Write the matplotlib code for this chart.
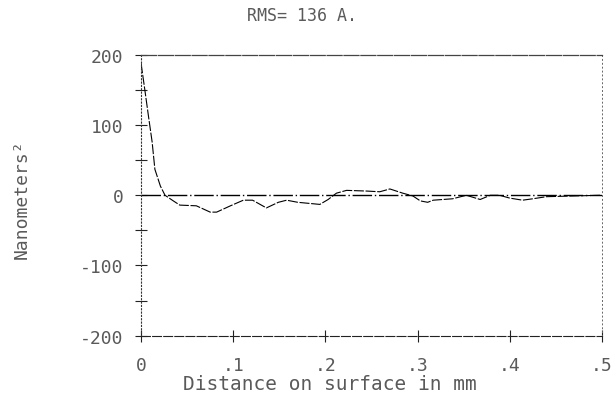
import matplotlib
matplotlib.use("Agg")
import matplotlib.pyplot as plt

# distance along surface (mm) and autocovariance (nm^2)
distance = [0.0, 0.004, 0.008, 0.012, 0.015, 0.021, 0.026, 0.035, 0.042, 0.060,
            0.075, 0.082, 0.097, 0.111, 0.121, 0.136, 0.149, 0.158, 0.170, 0.194,
            0.203, 0.212, 0.223, 0.245, 0.259, 0.270, 0.284, 0.295, 0.303, 0.311,
            0.317, 0.338, 0.353, 0.368, 0.379, 0.389, 0.400, 0.414, 0.425, 0.440,
            0.469, 0.498]
acv = [188, 151, 113, 76, 37, 13, 0, -8, -14, -15,
       -24, -24, -15, -7, -7, -18, -10, -7, -10, -13,
       -6, 3, 7, 6, 5, 9, 3, -1, -8, -10,
       -7, -5, 0, -6, 0, 0, -4, -7, -5, -2,
       -1, 0]

x_ticks = [0, 0.1, 0.2, 0.3, 0.4, 0.5]
x_ticklabels = ["0", ".1", ".2", ".3", ".4", ".5"]
y_ticks = [-200, -100, 0, 100, 200]
y_ticklabels = ["-200", "-100", "0", "100", "200"]

mono = "DejaVu Sans Mono"
txt = "#5a5a5a"

fig = plt.figure(figsize=(6.16, 4.02), dpi=100)
ax = fig.add_axes([0.229, 0.1625, 0.748, 0.6985])

ax.plot(distance, acv, color="black", lw=0.8, ls=(0, (9, 1.5)))
ax.axhline(0, color="black", lw=1.0, ls=(0, (14, 2, 1, 2)))

ax.set_xlim(0, 0.5)
ax.set_ylim(-200, 200)

ax.spines["left"].set_linestyle((0, (1, 2)))
ax.spines["left"].set_color("#333333")
ax.spines["left"].set_linewidth(0.8)
ax.spines["bottom"].set_linestyle((0, (8, 2)))
ax.spines["bottom"].set_color("#222222")
ax.spines["bottom"].set_linewidth(0.8)
ax.spines["top"].set_linestyle((0, (12, 1.5)))
ax.spines["top"].set_color("#444444")
ax.spines["top"].set_linewidth(0.9)
ax.spines["right"].set_linestyle((0, (1, 3)))
ax.spines["right"].set_color("#666666")
ax.spines["right"].set_linewidth(0.7)

ax.set_xticks(x_ticks)
ax.set_xticklabels(x_ticklabels, family=mono, fontsize=13, color=txt)
ax.set_yticks(y_ticks)
ax.set_yticklabels(y_ticklabels, family=mono, fontsize=13, color=txt)
ax.set_yticks([-150, -50, 50, 150], minor=True)
ax.tick_params(axis="both", which="both", direction="inout", length=9,
               width=0.8, color="#222222", pad=8)
ax.tick_params(axis="x", pad=10)
ax.tick_params(axis="x", which="major", top=False)
ax.tick_params(axis="y", right=False)

fig.text(0.49, 0.96, "RMS= 136 A.", family=mono, fontsize=12, color=txt,
         ha="center", va="center")
fig.text(0.535, 0.043, "Distance on surface in mm", family=mono, fontsize=14,
         color=txt, ha="center", va="center")
fig.text(0.036, 0.505, "Nanometers²", family=mono, fontsize=13, color=txt,
         ha="center", va="center", rotation=90)

fig.savefig("out.png", dpi=100)
